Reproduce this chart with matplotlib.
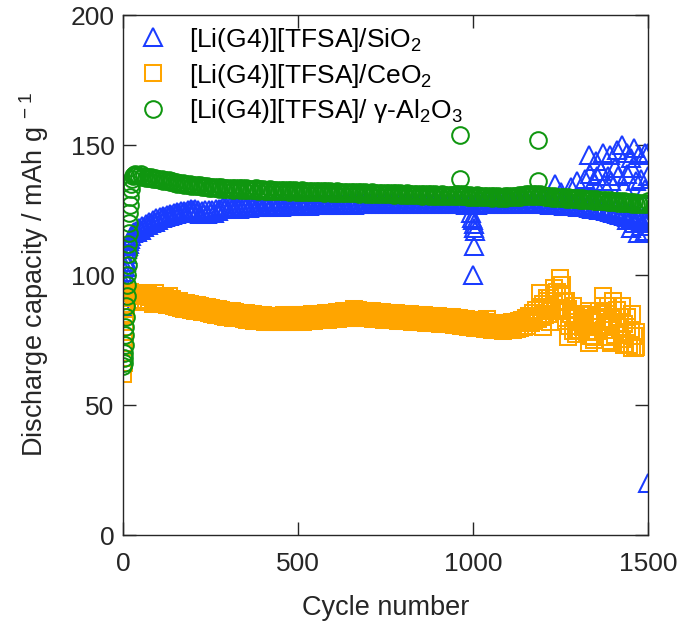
"""
Discharge capacity vs cycle number for three [Li(G4)][TFSA] composite electrolytes.
"""
import matplotlib
matplotlib.use("Agg")
import matplotlib.pyplot as plt

plt.rcParams["font.family"] = ["Liberation Sans", "DejaVu Sans"]
plt.rcParams["mathtext.fontset"] = "custom"
plt.rcParams["mathtext.rm"] = "Liberation Sans"
plt.rcParams["mathtext.it"] = "Liberation Sans:italic"

# cycle grid for the long plateau part, read every 5 cycles (40 ... 1500)
GRID = list(range(40, 1501, 5))

# ---- SiO2 (blue triangles) ----
SIO2_EARLY_CYC = [1, 2, 3, 4, 5, 6, 7, 8, 9, 10, 12, 14, 16, 18, 20, 24, 28, 32, 36]
SIO2_EARLY_CAP = [88, 92, 95, 97, 99, 101, 103, 105, 106, 108, 110, 111, 112, 113, 114,
                  115, 116, 116.5, 117]
SIO2_CAP = [
    116.5, 118.0, 117.2, 119.0, 118.4, 119.8, 119.2, 120.5, 120.0, 121.2, 120.6, 121.8, 121.3, 122.3, 121.8, 122.7, 122.2, 123.0, 122.6, 123.3,
    123.0, 123.7, 123.3, 124.1, 123.7, 124.5, 124.0, 124.8, 124.4, 125.2, 124.8, 125.5, 125.0, 125.6, 124.2, 125.0, 123.6, 124.8, 123.4, 124.9,
    123.5, 125.0, 123.7, 125.1, 124.0, 125.3, 124.5, 125.6, 125.3, 126.0, 125.4, 126.1, 125.6, 126.2, 125.5, 126.3, 125.7, 126.2, 125.6, 126.4,
    125.8, 126.4, 125.9, 126.5, 125.8, 126.6, 126.0, 126.5, 126.1, 126.7, 126.0, 126.6, 126.2, 126.8, 126.1, 126.7, 126.3, 126.9, 126.2, 126.8,
    126.4, 126.9, 126.3, 127.0, 126.5, 126.9, 126.4, 127.1, 126.6, 127.0, 126.5, 127.1, 126.7, 127.2, 126.6, 127.1, 126.8, 127.2, 126.7, 127.3,
    126.9, 127.3, 126.8, 127.4, 126.9, 127.3, 127.0, 127.5, 126.9, 127.4, 127.1, 127.5, 127.0, 127.4, 127.1, 127.6, 127.0, 127.5, 127.2, 127.6,
    127.1, 127.6, 127.2, 127.7, 127.1, 127.6, 127.3, 127.8, 127.2, 127.7, 127.3, 127.8, 127.2, 127.7, 127.4, 127.9, 127.3, 127.8, 127.4, 127.9,
    127.3, 127.8, 127.4, 127.9, 127.3, 127.8, 127.5, 128.0, 127.4, 127.9, 127.5, 128.0, 127.4, 127.9, 127.5, 128.0, 127.4, 127.9, 127.5, 128.0,
    127.4, 127.9, 127.5, 128.0, 127.4, 127.9, 127.5, 128.0, 127.4, 127.9, 127.5, 128.0, 127.3, 127.8, 127.4, 127.9, 127.3, 127.8, 127.4, 127.9,
    127.3, 127.8, 127.2, 127.7, 127.3, 127.8, 127.2, 127.6, 126.8, 127.4, 126.9, 127.5, 127.0, 127.6, 127.1, 127.7, 127.2, 127.8, 127.3, 127.8,
    127.3, 127.9, 127.4, 127.8, 127.3, 127.9, 127.4, 128.0, 127.5, 127.9, 127.4, 128.0, 127.5, 128.0, 127.4, 127.9, 127.5, 128.0, 127.6, 128.1,
    127.5, 128.0, 127.6, 128.1, 127.5, 128.0, 127.6, 128.1, 127.5, 128.0, 127.4, 127.9, 127.3, 127.8, 127.2, 127.7, 127.1, 127.6, 127.0, 127.5,
    126.9, 127.5, 126.8, 127.4, 126.7, 127.3, 126.6, 127.2, 126.5, 127.1, 126.4, 127.0, 126.3, 126.9, 126.1, 126.8, 126.0, 126.7, 125.8, 126.5,
    125.6, 126.4, 125.4, 126.2, 125.1, 126.0, 124.9, 125.8, 124.6, 125.5, 124.3, 125.3, 124.0, 125.0, 123.6, 124.8, 123.2, 124.5, 122.8, 124.2,
    122.4, 123.9, 122.0, 123.5, 121.6, 123.1, 121.2, 122.8, 120.8, 122.5, 120.4, 122.0, 120.0,
]
SIO2_EXTRA_CYC = [995, 998, 1000, 1002, 1004, 1006, 1003, 1001,
                  1234, 1250, 1280, 1297, 1320, 1335, 1345, 1355, 1365, 1375, 1385, 1395,
                  1405, 1415, 1430, 1440, 1455, 1465, 1480, 1490, 1500,
                  1330, 1350, 1370, 1390, 1410, 1425, 1440, 1450, 1460, 1475, 1490, 1500,
                  1420, 1440, 1450, 1460, 1470, 1480, 1490, 1495, 1500, 1500]
SIO2_EXTRA_CAP = [124, 122, 121, 119.5, 118, 117, 111, 100,
                  135, 132, 134, 136, 137, 139, 136, 138, 140, 135, 138, 136,
                  141, 138, 134, 139, 141, 136, 137, 133, 138,
                  146, 144, 147, 146, 148, 150, 147, 145, 149, 146, 147, 147,
                  123, 121, 118, 120, 116, 119, 117, 116, 121, 20]

# ---- CeO2 (orange squares), last cycle ~1465 ----
CEO2_EARLY_CYC = [1, 2, 3, 4, 5, 6, 7, 8, 9, 10, 12, 14, 17, 20, 25, 30, 35]
CEO2_EARLY_CAP = [62, 66, 70, 74, 78, 82, 85, 87, 89, 90, 91, 92, 93, 93.5, 93, 92.5, 92]
CEO2_CAP = [
    93.0, 90.5, 92.4, 89.8, 91.8, 90.2, 92.6, 89.5, 91.5, 89.0, 91.9, 89.6, 91.2, 88.8, 90.9, 89.3, 91.4, 88.6, 90.6, 88.9,
    90.8, 88.2, 90.1, 87.8, 89.9, 87.5, 89.4, 87.0, 89.2, 86.8, 88.9, 86.5, 88.6, 86.2, 88.3, 86.4, 88.0, 85.9, 87.8, 85.7,
    87.6, 85.3, 87.2, 85.0, 87.0, 84.8, 86.8, 84.5, 86.6, 84.2, 86.3, 84.0, 86.1, 83.9, 86.0, 83.6, 85.8, 83.4, 85.6, 83.3,
    85.5, 83.1, 85.3, 82.9, 85.1, 82.7, 84.9, 82.5, 84.8, 82.4, 84.6, 82.2, 84.5, 82.1, 84.4, 81.9, 84.3, 81.8, 84.4, 81.9,
    84.4, 81.8, 84.3, 81.9, 84.5, 82.0, 84.4, 81.8, 84.6, 82.1, 84.5, 82.0, 84.7, 82.2, 84.6, 82.1, 84.8, 82.3, 84.7, 82.4,
    84.9, 82.5, 85.0, 82.6, 85.1, 82.7, 85.2, 82.8, 85.3, 82.9, 85.4, 83.0, 85.5, 83.1, 85.7, 83.2, 85.8, 83.3, 86.0, 83.4,
    86.1, 83.5, 86.3, 83.6, 86.2, 83.7, 86.4, 83.6, 86.3, 83.5, 86.2, 83.4, 86.1, 83.3, 86.0, 83.2, 85.9, 83.1, 85.8, 83.0,
    85.7, 82.9, 85.6, 82.8, 85.5, 82.7, 85.4, 82.6, 85.3, 82.5, 85.2, 82.4, 85.1, 82.3, 85.0, 82.2, 84.9, 82.1, 84.8, 82.0,
    84.7, 81.9, 84.6, 81.8, 84.5, 81.7, 84.4, 81.6, 84.3, 81.5, 84.2, 81.4, 84.1, 81.3, 84.0, 81.2, 83.9, 81.1, 83.8, 81.0,
    83.7, 80.9, 83.6, 80.8, 83.4, 80.6, 83.2, 80.4, 83.0, 80.2, 82.8, 80.0, 82.6, 79.8, 82.4, 79.6, 82.2, 79.5, 82.0, 79.3,
    81.8, 79.1, 81.6, 78.9, 81.5, 78.8, 81.4, 78.7, 81.3, 78.6, 81.4, 78.7, 81.6, 78.8, 81.8, 79.0, 82.0, 79.2, 82.3, 79.5,
    82.8, 79.9, 83.5, 80.6, 84.4, 81.4, 85.5, 82.3, 86.6, 83.0, 87.8, 83.8, 88.9, 84.5, 90.0, 85.2, 91.2, 86.0, 92.4, 86.8,
    93.5, 87.2, 92.0, 86.0, 89.5, 83.5, 87.0, 80.5, 85.0, 78.5, 84.0, 77.5, 83.5, 79.0, 85.0, 80.0, 84.5, 78.0, 83.0, 76.5,
    82.0, 76.0, 84.0, 78.5, 86.0, 80.0, 88.0, 79.0, 85.0, 76.0, 82.0, 74.5, 83.0, 77.0, 86.5, 80.0, 84.0, 75.5, 81.0, 73.5,
    80.0, 73.0, 78.0, 72.0, 76.5, 72.5,
]
CEO2_EXTRA_CYC = [1190, 1210, 1230, 1248, 1255, 1265, 1285, 1295, 1310, 1330, 1345, 1370,
                  1385, 1395, 1410, 1425, 1440, 1455, 1465, 1462, 1430, 1330, 1270, 1220,
                  1200, 1400, 1350, 1300, 90, 130, 660, 1040]
CEO2_EXTRA_CAP = [93, 91, 95, 99, 96, 90, 88, 85, 82, 86, 75, 92,
                  88, 74, 81, 88, 84, 85, 78, 72, 73, 74, 76, 82,
                  80, 90, 83, 79, 93, 92, 87, 83]

# ---- gamma-Al2O3 (green circles) ----
AL2O3_EARLY_CYC = [1, 2, 3, 4, 5, 6, 7, 8, 9, 10, 11, 12, 13, 14, 15, 16, 17, 18, 19, 20,
                   22, 24, 26, 28, 30, 34, 38]
AL2O3_EARLY_CAP = [65, 66, 68, 70, 73, 77, 80, 84, 88, 92, 96, 100, 104, 108, 112, 116,
                   120, 124, 127, 130, 133, 135, 137, 138, 138.5, 139, 138.5]
AL2O3_CAP = [
    138.6, 138.2, 138.9, 137.8, 138.1, 137.5, 137.9, 137.2, 137.6, 136.9, 137.3, 136.8, 137.0, 136.4, 136.9, 136.2, 136.6, 136.0, 136.4, 135.9,
    136.1, 135.5, 135.9, 135.2, 135.6, 135.0, 135.4, 134.8, 135.1, 134.6, 134.9, 134.4, 134.8, 134.2, 134.6, 134.1, 134.5, 133.9, 134.3, 133.8,
    134.2, 133.6, 134.0, 133.5, 133.9, 133.3, 133.8, 133.2, 133.7, 133.1, 133.6, 133.0, 133.5, 133.1, 133.6, 132.9, 133.4, 133.0, 133.5, 132.9,
    133.3, 132.8, 133.4, 132.7, 133.2, 132.6, 133.1, 132.7, 133.3, 132.5, 133.0, 132.6, 133.1, 132.4, 132.9, 132.5, 133.0, 132.3, 132.8, 132.4,
    132.9, 132.3, 132.8, 132.2, 132.7, 132.3, 132.8, 132.1, 132.6, 132.2, 132.7, 132.0, 132.5, 132.1, 132.6, 132.0, 132.5, 131.9, 132.4, 132.0,
    132.5, 131.9, 132.4, 131.8, 132.3, 131.9, 132.4, 131.7, 132.2, 131.8, 132.3, 131.6, 132.1, 131.7, 132.2, 131.6, 132.1, 131.5, 132.0, 131.6,
    132.1, 131.5, 132.0, 131.4, 131.9, 131.5, 132.0, 131.3, 131.8, 131.4, 131.9, 131.2, 131.7, 131.3, 131.8, 131.2, 131.6, 131.1, 131.5, 131.2,
    131.7, 131.1, 131.6, 131.0, 131.5, 131.1, 131.6, 130.9, 131.4, 131.0, 131.5, 130.8, 131.3, 130.9, 131.4, 130.8, 131.2, 130.7, 131.1, 130.8,
    131.3, 130.7, 131.2, 130.6, 131.1, 130.7, 131.2, 130.5, 131.0, 130.6, 131.1, 130.4, 130.9, 130.5, 131.0, 130.4, 130.9, 130.3, 130.8, 130.4,
    130.9, 130.3, 131.1, 130.4, 131.3, 130.5, 131.0, 130.3, 130.8, 130.2, 130.7, 130.1, 130.6, 130.2, 130.7, 130.0, 130.5, 130.1, 130.6, 130.0,
    130.5, 129.9, 130.4, 129.8, 130.3, 129.9, 130.4, 129.7, 130.2, 129.8, 130.3, 129.8, 130.4, 129.9, 130.5, 130.0, 130.6, 130.1, 130.8, 130.2,
    130.9, 130.3, 131.1, 130.4, 131.2, 130.5, 131.3, 130.6, 131.2, 130.4, 131.0, 130.3, 130.8, 130.1, 130.6, 129.9, 130.4, 129.8, 130.3, 129.7,
    130.2, 129.6, 130.1, 129.5, 130.0, 129.4, 129.9, 129.3, 129.8, 129.2, 129.7, 129.1, 129.6, 129.0, 129.5, 128.9, 129.4, 128.8, 129.3, 128.7,
    129.2, 128.6, 129.1, 128.5, 129.0, 128.4, 128.9, 128.3, 128.8, 128.2, 128.7, 128.1, 128.6, 128.0, 128.5, 127.9, 128.4, 127.8, 128.3, 127.7,
    128.2, 127.6, 128.1, 127.5, 128.0, 127.4, 127.9, 127.3, 127.8, 127.2, 127.7, 127.3, 128.5,
]
AL2O3_EXTRA_CYC = [963, 963, 1186, 1186]
AL2O3_EXTRA_CAP = [154, 137, 152, 136]

BLUE   = "#1a3cff"
ORANGE = "#ffa500"
GREEN  = "#0f960f"
INK    = "#262626"

fig = plt.figure(figsize=(6.85, 6.28), dpi=100)
ax = fig.add_axes([0.1796, 0.148, 0.7664, 0.828])

style = dict(linestyle="none", markerfacecolor="none", markeredgewidth=1.45)

ax.plot(SIO2_EARLY_CYC + GRID[:len(SIO2_CAP)] + SIO2_EXTRA_CYC,
        SIO2_EARLY_CAP + SIO2_CAP + SIO2_EXTRA_CAP,
        marker="^", markersize=12.5, markeredgecolor=BLUE, color=BLUE,
        label=r"[Li(G4)][TFSA]/SiO$_2$", **style)
ax.plot(CEO2_EARLY_CYC + GRID[:len(CEO2_CAP)] + CEO2_EXTRA_CYC,
        CEO2_EARLY_CAP + CEO2_CAP + CEO2_EXTRA_CAP,
        marker="s", markersize=11.5, markeredgecolor=ORANGE, color=ORANGE,
        label=r"[Li(G4)][TFSA]/CeO$_2$", **style)
ax.plot(AL2O3_EARLY_CYC + GRID[:len(AL2O3_CAP)] + AL2O3_EXTRA_CYC,
        AL2O3_EARLY_CAP + AL2O3_CAP + AL2O3_EXTRA_CAP,
        marker="o", markersize=12, markeredgecolor=GREEN, color=GREEN,
        label=r"[Li(G4)][TFSA]/ γ-Al$_2$O$_3$", **style)

ax.set_xlim(0, 1500)
ax.set_ylim(0, 200)
ax.set_xticks([0, 500, 1000, 1500])
ax.set_yticks([0, 50, 100, 150, 200])
ax.tick_params(direction="in", length=9.5, width=1.0, colors=INK, labelsize=19,
               top=True, right=True)
ax.tick_params(axis="x", pad=12)
ax.tick_params(axis="y", pad=6)
for sp in ax.spines.values():
    sp.set_color(INK)
    sp.set_linewidth(1.0)

ax.set_xlabel("Cycle number", fontsize=19.5, color=INK, labelpad=14)
ax.set_ylabel(r"Discharge capacity / mAh g$^{\ -1}$", fontsize=19.5, color=INK, labelpad=14)

ax.legend(loc="upper left", bbox_to_anchor=(0.0, 1.0), frameon=False, fontsize=19,
          numpoints=1, handletextpad=0.6, borderaxespad=0.0, labelspacing=0.3,
          handlelength=1.5)

fig.savefig("out.png", dpi=100)
